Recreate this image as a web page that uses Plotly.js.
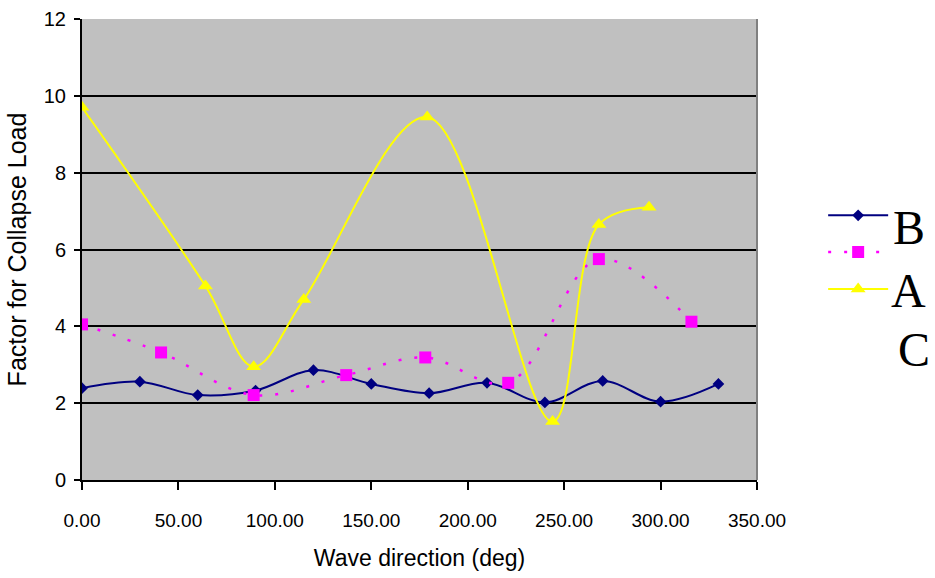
<!DOCTYPE html>
<html>
<head>
<meta charset="utf-8">
<script src="https://cdn.plot.ly/plotly-3.0.1.min.js"></script>
<style>html,body{margin:0;padding:0;background:#fff;}#chart{width:935px;height:578px;}</style>
</head>
<body>
<div id="chart"></div>
<script>
// Series B (navy, diamonds)
const bX = [0, 30, 60, 90, 120, 150, 180, 210, 240, 270, 300, 330];
const bY = [2.39, 2.56, 2.21, 2.33, 2.86, 2.5, 2.26, 2.53, 2.02, 2.58, 2.04, 2.5];
// Series A (magenta, squares, dotted)
const aX = [0, 41, 89, 137, 178, 221, 268, 316];
const aY = [4.05, 3.32, 2.21, 2.73, 3.19, 2.53, 5.75, 4.12];
// Series C (yellow, triangles)
const cX = [0, 64, 89, 115, 179, 244, 268, 294];
const cY = [9.7, 5.05, 2.95, 4.7, 9.45, 1.52, 6.65, 7.1];

const legendLabels = ["B", "A", "C"];
const xTitle = "Wave direction (deg)";
const yTitle = "Factor for Collapse Load";

const traces = [
  {x: bX, y: bY, name: "", type: "scatter", mode: "lines+markers",
   line: {color: "#000080", width: 2, shape: "spline", smoothing: 1},
   marker: {symbol: "diamond", size: 9, color: "#000080"}},
  {x: aX, y: aY, name: "", type: "scatter", mode: "lines+markers",
   line: {color: "#FF00FF", width: 2.5, dash: "3px,13px", shape: "spline", smoothing: 1},
   marker: {symbol: "square", size: 12, color: "#FF00FF"}},
  {x: cX, y: cY, name: "", type: "scatter", mode: "lines+markers",
   line: {color: "#FFFF00", width: 2, shape: "spline", smoothing: 1},
   marker: {symbol: "triangle-up", size: 13, color: "#FFFF00"}}
];

const annY = [0.547, 0.412, 0.282];
const annX = [1.225, 1.225, 1.232];
const annotations = legendLabels.map((t, i) => ({
  text: t, xref: "paper", yref: "paper", x: annX[i], y: annY[i],
  xanchor: "center", yanchor: "middle", showarrow: false,
  font: {family: "Liberation Serif, Times New Roman, serif", size: 48, color: "#000"}
}));

const layout = {
  width: 935, height: 578,
  margin: {l: 82, r: 178, t: 19, b: 98},
  paper_bgcolor: "#ffffff",
  plot_bgcolor: "#C0C0C0",
  showlegend: true,
  legend: {x: 1.098, xanchor: "left", y: 0.625, yanchor: "top",
           bgcolor: "rgba(0,0,0,0)", font: {size: 26, family: "Liberation Sans"},
           tracegroupgap: 0, itemwidth: 60},
  xaxis: {
    range: [0, 350], dtick: 50, tick0: 0, tickformat: ".2f",
    showgrid: false, zeroline: false,
    showline: true, linecolor: "#000", linewidth: 2,
    ticks: "outside", ticklen: 8, tickwidth: 2, tickcolor: "#000",
    ticklabelstandoff: 14,
    tickfont: {family: "Liberation Sans Narrow, Arial Narrow, Liberation Sans", size: 19, color: "#000"},
    title: {text: xTitle, standoff: 20,
            font: {family: "Liberation Sans, Arial", size: 23, color: "#000"}}
  },
  yaxis: {
    range: [0, 12], dtick: 2, tick0: 0,
    showgrid: true, gridcolor: "#000", gridwidth: 2,
    zeroline: false,
    showline: true, linecolor: "#000", linewidth: 2,
    ticks: "outside", ticklen: 6, tickwidth: 2, tickcolor: "#000",
    ticklabelstandoff: 4,
    tickfont: {family: "Liberation Sans, Arial", size: 20, color: "#000"},
    title: {text: yTitle, standoff: 10,
            font: {family: "Liberation Sans, Arial", size: 25, color: "#000"}}
  },
  shapes: [
    {type: "line", xref: "paper", yref: "paper", x0: 1, x1: 1, y0: 0, y1: 1,
     line: {color: "#808080", width: 2}}
  ],
  annotations: annotations
};

Plotly.newPlot("chart", traces, layout, {displayModeBar: false, staticPlot: true});
</script>
</body>
</html>
